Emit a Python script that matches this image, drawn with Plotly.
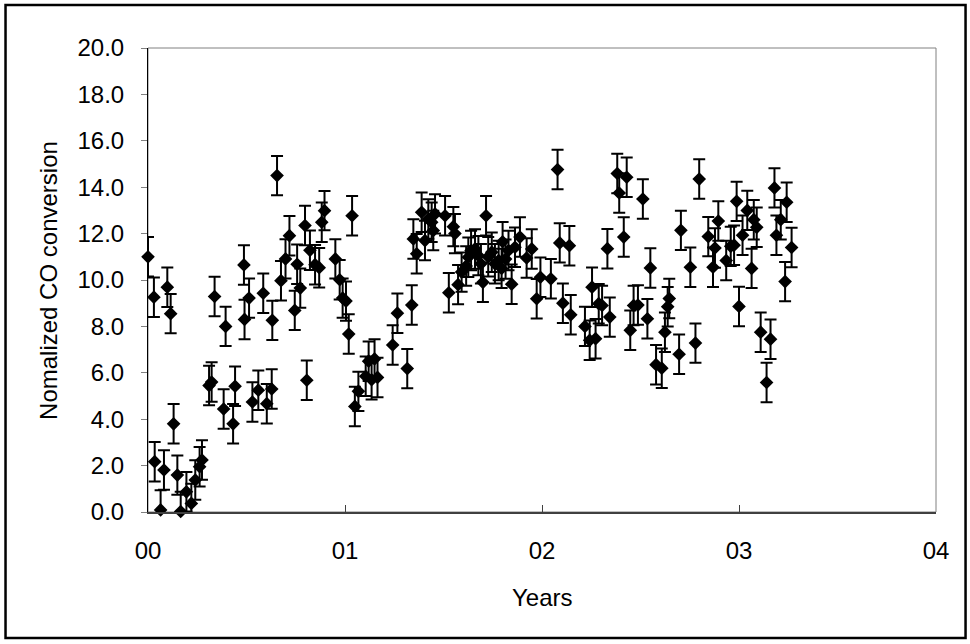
import plotly.graph_objects as go

# Time in years since start of 2000 (axis labels "00".."04")
years = [
    0.00, 0.03, 0.034, 0.064, 0.081, 0.098, 0.115, 0.13, 0.149, 0.166,
    0.195, 0.22, 0.24, 0.262, 0.274, 0.31, 0.323, 0.338, 0.384, 0.394,
    0.432, 0.442, 0.487, 0.49, 0.513, 0.53, 0.56, 0.585, 0.603, 0.628,
    0.631, 0.655, 0.675, 0.698, 0.718, 0.745, 0.757, 0.773, 0.797, 0.806,
    0.822, 0.848, 0.869, 0.882, 0.896, 0.951, 0.973, 0.988, 1.005, 1.019,
    1.036, 1.05, 1.068, 1.105, 1.12, 1.135, 1.15, 1.165, 1.242, 1.266,
    1.316, 1.339, 1.347, 1.364, 1.389, 1.406, 1.423, 1.44, 1.448, 1.457,
    1.508, 1.527, 1.55, 1.558, 1.574, 1.592, 1.615, 1.626, 1.64, 1.66,
    1.677, 1.69, 1.70, 1.716, 1.727, 1.745, 1.761, 1.78, 1.795, 1.80,
    1.815, 1.83, 1.846, 1.863, 1.888, 1.922, 1.948, 1.973, 1.992, 2.045,
    2.079, 2.09, 2.106, 2.139, 2.146, 2.218, 2.242, 2.254, 2.272, 2.288,
    2.305, 2.332, 2.344, 2.382, 2.392, 2.415, 2.43, 2.448, 2.465, 2.487,
    2.512, 2.535, 2.55, 2.579, 2.608, 2.624, 2.638, 2.646, 2.696, 2.705,
    2.753, 2.779, 2.798, 2.844, 2.868, 2.878, 2.895, 2.935, 2.958, 2.975,
    2.988, 3.0, 3.018, 3.042, 3.064, 3.075, 3.09, 3.11, 3.14, 3.16,
    3.18, 3.19, 3.212, 3.234, 3.242, 3.267,
]
conversion = [
    11.0, 9.26, 2.17, 0.09, 1.81, 9.69, 8.55, 3.80, 1.59, 0.02,
    0.87, 0.37, 1.38, 1.95, 2.24, 5.45, 5.6, 9.29, 4.44, 8.0,
    3.8, 5.42, 10.65, 8.3, 9.22, 4.74, 5.25, 9.43, 4.67, 5.3,
    8.26, 14.5, 9.97, 10.91, 11.91, 8.69, 10.68, 9.65, 12.35, 5.68,
    11.28, 10.66, 10.53, 12.49, 12.99, 10.91, 10.01, 9.22, 9.09, 7.67,
    12.77, 4.55, 5.2, 5.85, 6.5, 5.7, 6.6, 5.8, 7.2, 8.57,
    6.18, 8.92, 11.77, 11.13, 12.92, 11.7, 12.63, 12.49, 12.13, 12.85,
    12.77, 9.45, 12.3, 12.0, 9.8, 10.34, 10.6, 10.98, 11.27, 11.34,
    11.05, 10.7, 9.9, 12.77, 11.0, 11.2, 10.7, 10.84, 10.5, 11.65,
    10.9, 11.27, 9.82, 11.41, 11.85, 10.95, 11.34, 9.19, 10.12, 10.05,
    14.76, 11.6, 9.0, 11.48, 8.5, 8.0, 7.4, 9.69, 7.47, 8.98,
    8.9, 11.35, 8.4, 14.59, 13.75, 11.85, 14.43, 7.83, 8.9, 8.92,
    13.49, 8.33, 10.52, 6.35, 6.2, 7.75, 8.85, 9.2, 6.8, 12.14,
    10.55, 7.28, 14.35, 11.87, 10.55, 11.38, 12.54, 10.84, 11.45, 11.5,
    13.39, 8.86, 11.93, 13.0, 10.5, 12.6, 12.27, 7.75, 5.58, 7.45,
    13.97, 11.93, 12.6, 9.93, 13.35, 11.4,
]
error_value = 0.85

x_tick_vals = [0, 1, 2, 3, 4]
x_tick_text = ["00", "01", "02", "03", "04"]
y_title = "Nomalized CO conversion"
x_title = "Years"

FONT = "Liberation Sans, Arial, sans-serif"
FS = 24

fig = go.Figure()
fig.add_trace(go.Scatter(
    x=years, y=conversion, mode="markers",
    marker=dict(symbol="diamond", size=10.5, color="black"),
    error_y=dict(type="constant", value=error_value, color="black",
                 thickness=2, width=6),
    cliponaxis=False,
    showlegend=False,
))

fig.update_layout(
    width=970, height=644,
    margin=dict(l=148, r=34, t=48, b=132),
    paper_bgcolor="white", plot_bgcolor="white",
    font=dict(family=FONT, size=FS, color="black"),
    xaxis=dict(
        range=[0, 4], tickvals=x_tick_vals, ticktext=x_tick_text,
        showgrid=False, zeroline=False,
        showline=True, linecolor="#404040", linewidth=2,
        ticks="inside", ticklen=7, tickcolor="#404040", tickwidth=1,
        ticklabelstandoff=16,
        tickfont=dict(family=FONT, size=FS, color="black"),
    ),
    yaxis=dict(
        range=[0, 20], dtick=2, tickformat=".1f",
        showgrid=False, zeroline=False,
        showline=True, linecolor="black", linewidth=1,
        ticks="outside", ticklen=6, tickcolor="#808080", tickwidth=1,
        ticklabelstandoff=12,
        tickfont=dict(family=FONT, size=FS, color="black"),
    ),
    shapes=[
        # plot-area frame (top / right thin grey lines)
        dict(type="rect", xref="paper", yref="paper", x0=0, x1=1, y0=0, y1=1,
             line=dict(color="#808080", width=1), layer="below"),
        # outer chart border
        dict(type="rect", xref="paper", yref="paper",
             x0=-0.1808, x1=1.0375, y0=-0.2713, y1=1.0925,
             line=dict(color="black", width=2.5)),
    ],
    annotations=[
        dict(text=y_title, xref="paper", yref="paper", x=-0.127, y=0.5,
             textangle=-90, showarrow=False, xanchor="center", yanchor="middle",
             font=dict(family=FONT, size=FS, color="black")),
        dict(text=x_title, xref="paper", yref="paper", x=0.5, y=-0.185,
             showarrow=False, xanchor="center", yanchor="middle",
             font=dict(family=FONT, size=FS, color="black")),
    ],
)

fig.write_html("out.html",
               config={"displayModeBar": False},
               post_script="document.body.style.margin='0px';"
                           "document.body.style.overflow='hidden';")
